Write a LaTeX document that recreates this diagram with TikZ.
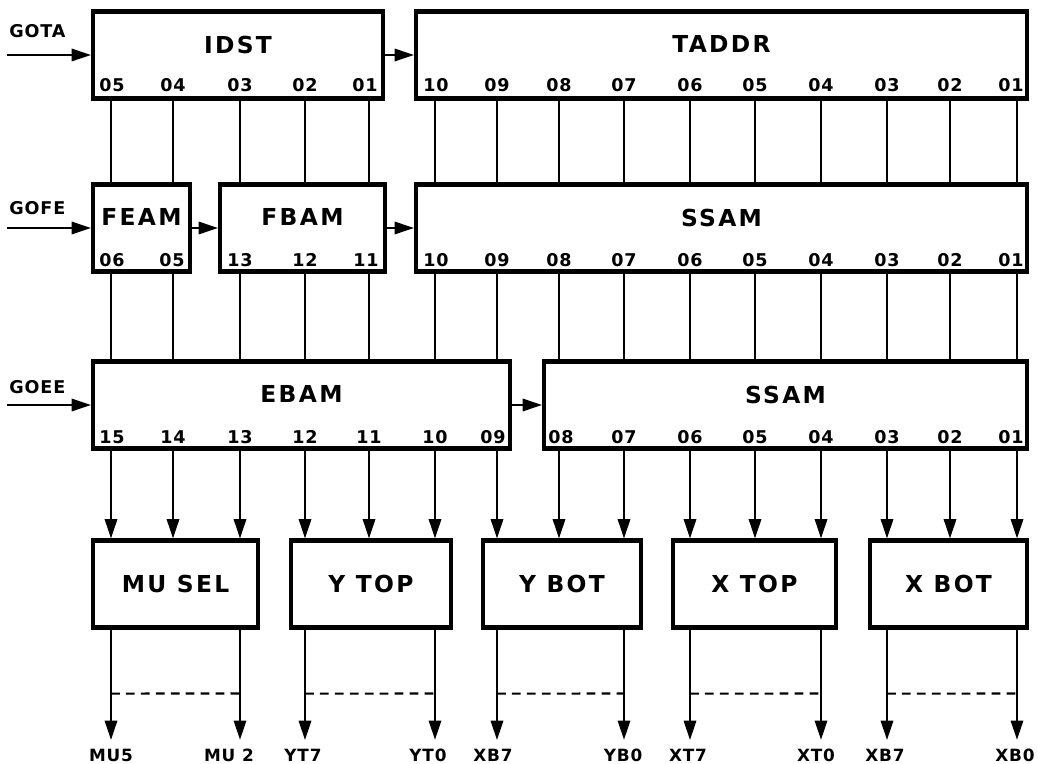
\documentclass[tikz,border=0pt]{standalone}
\usepackage{fontspec}
\setmainfont{DejaVu Sans}
\newfontfamily\titlefont[LetterSpace=10]{DejaVu Sans}
\newfontfamily\portfont[LetterSpace=5]{DejaVu Sans}
\usetikzlibrary{arrows.meta, positioning}

\begin{document}
\begin{tikzpicture}[
  % ---- styles ----
  blk/.style = {
    draw=black, line width=2.3pt,
    minimum height=1.74cm,
    inner sep=0pt
  },
  blktitle/.style = {font=\titlefont\bfseries\fontsize{13.3}{16}\selectfont, inner sep=0pt},
  port/.style = {font=\portfont\bfseries\fontsize{10}{12}\selectfont, inner sep=0pt},
  outlbl/.style = {font=\portfont\bfseries\fontsize{9.6}{12}\selectfont, inner sep=0pt, outer sep=5pt},
  wire/.style = {line width=1.3pt},
  sig/.style = {-{Triangle[length=11pt, width=7pt]}, line width=1.3pt},
  busdash/.style = {line width=1.2pt, dash pattern=on 5pt off 3.5pt}
]

\useasboundingbox (0,0) rectangle (20.76,-15.28);

% ---- bit columns ----
\coordinate (col1) at (2.22,0);   \coordinate (col2) at (3.46,0);
\coordinate (col3) at (4.80,0);   \coordinate (col4) at (6.10,0);
\coordinate (col5) at (7.38,0);   \coordinate (col6) at (8.70,0);
\coordinate (col7) at (9.94,0);   \coordinate (col8) at (11.18,0);
\coordinate (col9) at (12.48,0);  \coordinate (col10) at (13.80,0);
\coordinate (col11) at (15.10,0); \coordinate (col12) at (16.42,0);
\coordinate (col13) at (17.74,0); \coordinate (col14) at (19.00,0);
\coordinate (col15) at (20.34,0);

% ============ ROW 1 ============

% --- IDST ---
\node[blk, minimum width=5.80cm] (idst) at (4.76,-1.10) {};
\node[blktitle, below=0.52cm of idst.north] (idsttitle) {IDST};
\node[port] (idst05) at (2.24,-1.70) {05};
\node[port] (idst04) at (3.46,-1.70) {04};
\node[port] (idst03) at (4.80,-1.70) {03};
\node[port] (idst02) at (6.10,-1.70) {02};
\node[port] (idst01) at (7.30,-1.70) {01};

% --- TADDR ---
\node[blk, minimum width=12.22cm] (taddr) at (14.43,-1.10) {};
\node[blktitle, below=0.52cm of taddr.north] (taddrtitle) {TADDR};
\node[port] (taddr10) at (8.72,-1.70) {10};
\node[port] (taddr09) at (9.94,-1.70) {09};
\node[port] (taddr08) at (11.18,-1.70) {08};
\node[port] (taddr07) at (12.48,-1.70) {07};
\node[port] (taddr06) at (13.80,-1.70) {06};
\node[port] (taddr05) at (15.10,-1.70) {05};
\node[port] (taddr04) at (16.42,-1.70) {04};
\node[port] (taddr03) at (17.74,-1.70) {03};
\node[port] (taddr02) at (19.00,-1.70) {02};
\node[port] (taddr01) at (20.22,-1.70) {01};

% ============ ROW 2 ============

% --- FEAM ---
\node[blk, minimum width=1.94cm] (feam) at (2.83,-4.56) {};
\node[blktitle, below=0.52cm of feam.north] (feamtitle) {FEAM};
\node[port] (feam06) at (2.24,-5.20) {06};
\node[port] (feam05) at (3.44,-5.20) {05};

% --- FBAM ---
\node[blk, minimum width=3.30cm] (fbam) at (6.05,-4.56) {};
\node[blktitle, below=0.52cm of fbam.north] (fbamtitle) {FBAM};
\node[port] (fbam13) at (4.80,-5.20) {13};
\node[port] (fbam12) at (6.10,-5.20) {12};
\node[port] (fbam11) at (7.32,-5.20) {11};

% --- SSAM (upper) ---
\node[blk, minimum width=12.22cm] (ssa) at (14.43,-4.56) {};
\node[blktitle, below=0.52cm of ssa.north] (ssatitle) {SSAM};
\node[port] (ssa10) at (8.72,-5.20) {10};
\node[port] (ssa09) at (9.94,-5.20) {09};
\node[port] (ssa08) at (11.18,-5.20) {08};
\node[port] (ssa07) at (12.48,-5.20) {07};
\node[port] (ssa06) at (13.80,-5.20) {06};
\node[port] (ssa05) at (15.10,-5.20) {05};
\node[port] (ssa04) at (16.42,-5.20) {04};
\node[port] (ssa03) at (17.74,-5.20) {03};
\node[port] (ssa02) at (19.00,-5.20) {02};
\node[port] (ssa01) at (20.22,-5.20) {01};

% ============ ROW 3 ============

% --- EBAM ---
\node[blk, minimum width=8.34cm] (ebam) at (6.03,-8.10) {};
\node[blktitle, below=0.52cm of ebam.north] (ebamtitle) {EBAM};
\node[port] (ebam15) at (2.24,-8.74) {15};
\node[port] (ebam14) at (3.46,-8.74) {14};
\node[port] (ebam13) at (4.80,-8.74) {13};
\node[port] (ebam12) at (6.10,-8.74) {12};
\node[port] (ebam11) at (7.38,-8.74) {11};
\node[port] (ebam10) at (8.70,-8.74) {10};
\node[port] (ebam09) at (9.86,-8.74) {09};

% --- SSAM (lower) ---
\node[blk, minimum width=9.66cm] (ssb) at (15.71,-8.10) {};
\node[blktitle, below=0.52cm of ssb.north] (ssbtitle) {SSAM};
\node[port] (ssb08) at (11.22,-8.74) {08};
\node[port] (ssb07) at (12.48,-8.74) {07};
\node[port] (ssb06) at (13.80,-8.74) {06};
\node[port] (ssb05) at (15.10,-8.74) {05};
\node[port] (ssb04) at (16.42,-8.74) {04};
\node[port] (ssb03) at (17.74,-8.74) {03};
\node[port] (ssb02) at (19.00,-8.74) {02};
\node[port] (ssb01) at (20.22,-8.74) {01};

% ============ ROW 4 ============
\node[blk, blktitle, minimum width=3.30cm] (musel) at (3.51,-11.68) {MU SEL};
\node[blk, blktitle, minimum width=3.20cm] (ytop) at (7.42,-11.68) {Y TOP};
\node[blk, blktitle, minimum width=3.16cm] (ybot) at (11.24,-11.68) {Y BOT};
\node[blk, blktitle, minimum width=3.26cm] (xtop) at (15.09,-11.68) {X TOP};
\node[blk, blktitle, minimum width=3.14cm] (xbot) at (18.97,-11.68) {X BOT};

% --- outputs ---
\node[outlbl] (mu5) at (2.22,-15.10) {MU5};
\node[outlbl] (mu2) at (4.58,-15.10) {MU 2};
\node[outlbl] (yt7) at (6.06,-15.10) {YT7};
\node[outlbl] (yt0) at (8.56,-15.10) {YT0};
\node[outlbl] (xb7a) at (9.86,-15.10) {XB7};
\node[outlbl] (yb0) at (12.46,-15.10) {YB0};
\node[outlbl] (xt7) at (13.76,-15.10) {XT7};
\node[outlbl] (xt0) at (16.32,-15.10) {XT0};
\node[outlbl] (xb7b) at (17.70,-15.10) {XB7};
\node[outlbl] (xb0) at (20.30,-15.10) {XB0};

% ============ GO SIGNALS ============
\node[port, anchor=west] (gota) at (0.18,-0.62) {GOTA};
\coordinate (gotain) at (0.14,-1.10);
\node[port, anchor=west] (gofe) at (0.18,-4.16) {GOFE};
\coordinate (gofein) at (0.14,-4.56);
\node[port, anchor=west] (goee) at (0.18,-7.74) {GOEE};
\coordinate (goeein) at (0.14,-8.10);

\draw[sig] (gotain) -- (idst);
\draw[sig] (idst) -- (taddr);
\draw[sig] (gofein) -- (feam);
\draw[sig] (feam) -- (fbam);
\draw[sig] (fbam) -- (ssa);
\draw[sig] (goeein) -- (ebam);
\draw[sig] (ebam) -- (ssb);

% ============ ROW 1 -> ROW 2 ============
\draw[wire] (col1 |- idst.south) -- (col1 |- feam.north);
\draw[wire] (col2 |- idst.south) -- (col2 |- feam.north);
\draw[wire] (col3 |- idst.south) -- (col3 |- fbam.north);
\draw[wire] (col4 |- idst.south) -- (col4 |- fbam.north);
\draw[wire] (col5 |- idst.south) -- (col5 |- fbam.north);
\draw[wire] (col6 |- taddr.south) -- (col6 |- ssa.north);
\draw[wire] (col7 |- taddr.south) -- (col7 |- ssa.north);
\draw[wire] (col8 |- taddr.south) -- (col8 |- ssa.north);
\draw[wire] (col9 |- taddr.south) -- (col9 |- ssa.north);
\draw[wire] (col10 |- taddr.south) -- (col10 |- ssa.north);
\draw[wire] (col11 |- taddr.south) -- (col11 |- ssa.north);
\draw[wire] (col12 |- taddr.south) -- (col12 |- ssa.north);
\draw[wire] (col13 |- taddr.south) -- (col13 |- ssa.north);
\draw[wire] (col14 |- taddr.south) -- (col14 |- ssa.north);
\draw[wire] (col15 |- taddr.south) -- (col15 |- ssa.north);

% ============ ROW 2 -> ROW 3 ============
\draw[wire] (col1 |- feam.south) -- (col1 |- ebam.north);
\draw[wire] (col2 |- feam.south) -- (col2 |- ebam.north);
\draw[wire] (col3 |- fbam.south) -- (col3 |- ebam.north);
\draw[wire] (col4 |- fbam.south) -- (col4 |- ebam.north);
\draw[wire] (col5 |- fbam.south) -- (col5 |- ebam.north);
\draw[wire] (col6 |- ssa.south) -- (col6 |- ebam.north);
\draw[wire] (col7 |- ssa.south) -- (col7 |- ebam.north);
\draw[wire] (col8 |- ssa.south) -- (col8 |- ssb.north);
\draw[wire] (col9 |- ssa.south) -- (col9 |- ssb.north);
\draw[wire] (col10 |- ssa.south) -- (col10 |- ssb.north);
\draw[wire] (col11 |- ssa.south) -- (col11 |- ssb.north);
\draw[wire] (col12 |- ssa.south) -- (col12 |- ssb.north);
\draw[wire] (col13 |- ssa.south) -- (col13 |- ssb.north);
\draw[wire] (col14 |- ssa.south) -- (col14 |- ssb.north);
\draw[wire] (col15 |- ssa.south) -- (col15 |- ssb.north);

% ============ ROW 3 -> ROW 4 ============
\draw[sig] (col1 |- ebam.south) -- (col1 |- musel.north);
\draw[sig] (col2 |- ebam.south) -- (col2 |- musel.north);
\draw[sig] (col3 |- ebam.south) -- (col3 |- musel.north);
\draw[sig] (col4 |- ebam.south) -- (col4 |- ytop.north);
\draw[sig] (col5 |- ebam.south) -- (col5 |- ytop.north);
\draw[sig] (col6 |- ebam.south) -- (col6 |- ytop.north);
\draw[sig] (col7 |- ebam.south) -- (col7 |- ybot.north);
\draw[sig] (col8 |- ssb.south) -- (col8 |- ybot.north);
\draw[sig] (col9 |- ssb.south) -- (col9 |- ybot.north);
\draw[sig] (col10 |- ssb.south) -- (col10 |- xtop.north);
\draw[sig] (col11 |- ssb.south) -- (col11 |- xtop.north);
\draw[sig] (col12 |- ssb.south) -- (col12 |- xtop.north);
\draw[sig] (col13 |- ssb.south) -- (col13 |- xbot.north);
\draw[sig] (col14 |- ssb.south) -- (col14 |- xbot.north);
\draw[sig] (col15 |- ssb.south) -- (col15 |- xbot.north);

% ============ OUTPUTS ============
\draw[sig] (col1 |- musel.south) -- coordinate[pos=0.58] (mu5d) (col1 |- mu5.north);
\draw[sig] (col3 |- musel.south) -- coordinate[pos=0.58] (mu2d) (col3 |- mu2.north);
\draw[busdash] (mu5d) -- (mu2d);

\draw[sig] (col4 |- ytop.south) -- coordinate[pos=0.58] (yt7d) (col4 |- yt7.north);
\draw[sig] (col6 |- ytop.south) -- coordinate[pos=0.58] (yt0d) (col6 |- yt0.north);
\draw[busdash] (yt7d) -- (yt0d);

\draw[sig] (col7 |- ybot.south) -- coordinate[pos=0.58] (xb7ad) (col7 |- xb7a.north);
\draw[sig] (col9 |- ybot.south) -- coordinate[pos=0.58] (yb0d) (col9 |- yb0.north);
\draw[busdash] (xb7ad) -- (yb0d);

\draw[sig] (col10 |- xtop.south) -- coordinate[pos=0.58] (xt7d) (col10 |- xt7.north);
\draw[sig] (col12 |- xtop.south) -- coordinate[pos=0.58] (xt0d) (col12 |- xt0.north);
\draw[busdash] (xt7d) -- (xt0d);

\draw[sig] (col13 |- xbot.south) -- coordinate[pos=0.58] (xb7bd) (col13 |- xb7b.north);
\draw[sig] (col15 |- xbot.south) -- coordinate[pos=0.58] (xb0d) (col15 |- xb0.north);
\draw[busdash] (xb7bd) -- (xb0d);

\end{tikzpicture}
\end{document}
